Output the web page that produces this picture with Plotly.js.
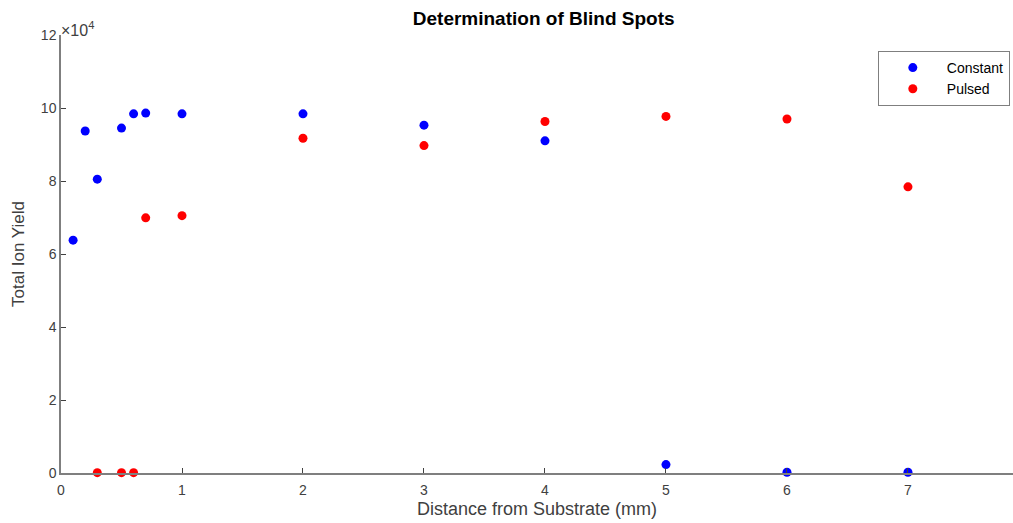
<!DOCTYPE html>
<html>
<head>
<meta charset="utf-8">
<script src="https://cdn.plot.ly/plotly-3.0.1.min.js"></script>
<style>html,body{margin:0;padding:0;background:#fff;}#chart{width:1013px;height:523px;}</style>
</head>
<body>
<div id="chart"></div>
<script>
// Distance from substrate (mm)
const constantX = [0.1, 0.2, 0.3, 0.5, 0.6, 0.7, 1, 2, 3, 4, 5, 6, 7];
const constantY = [63800, 93700, 80500, 94500, 98400, 98600, 98400, 98400, 95300, 91000, 2300, 200, 200];
const pulsedX = [0.3, 0.5, 0.6, 0.7, 1, 2, 3, 4, 5, 6, 7];
const pulsedY = [100, 100, 100, 69900, 70500, 91700, 89700, 96300, 97700, 97000, 78400];
const xTicks = [0, 1, 2, 3, 4, 5, 6, 7];
const xTickLabels = ['0', '1', '2', '3', '4', '5', '6', '7'];
const yTicks = [0, 20000, 40000, 60000, 80000, 100000, 120000];
const yTickLabels = ['0', '2', '4', '6', '8', '10', '12'];

const font = 'Liberation Sans, Arial, Helvetica, sans-serif';
const axisGray = '#7f7f7f';
const textGray = '#404040';

const traces = [
  {x: constantX, y: constantY, name: 'Constant', type: 'scatter', mode: 'markers',
   marker: {color: '#0000ff', size: 9}, cliponaxis: false},
  {x: pulsedX, y: pulsedY, name: 'Pulsed', type: 'scatter', mode: 'markers',
   marker: {color: '#ff0000', size: 9}, cliponaxis: false}
];

const layout = {
  width: 1013, height: 523,
  margin: {l: 61, r: 0, t: 35, b: 50},
  paper_bgcolor: '#ffffff', plot_bgcolor: '#ffffff',
  font: {family: font, size: 14, color: textGray},
  title: {text: '<b>Determination of Blind Spots</b>', font: {family: font, size: 19, color: '#000000'},
          x: 0.507, xref: 'paper', xanchor: 'center', y: 0.965, yref: 'container', yanchor: 'middle'},
  showlegend: true,
  legend: {x: 0.858, y: 0.9635, xanchor: 'left', yanchor: 'top', bordercolor: axisGray, borderwidth: 1,
           bgcolor: '#ffffff', font: {family: font, size: 14, color: '#000000'}, itemwidth: 58,
           tracegroupgap: 0},
  xaxis: {
    range: [0, 7.868], tickmode: 'array', tickvals: xTicks, ticktext: xTickLabels,
    showgrid: false, zeroline: false, showline: true, linecolor: axisGray, linewidth: 1.5,
    ticks: 'inside', ticklen: 5, tickcolor: '#404040', tickwidth: 1,
    tickfont: {family: font, size: 14, color: textGray}, ticklabelstandoff: 3,
    title: {text: 'Distance from Substrate (mm)', font: {family: font, size: 18, color: textGray}, standoff: 6}
  },
  yaxis: {
    range: [0, 120000], tickmode: 'array', tickvals: yTicks, ticktext: yTickLabels,
    showgrid: false, zeroline: false, showline: true, linecolor: axisGray, linewidth: 1.5,
    ticks: 'inside', ticklen: 5, tickcolor: '#404040', tickwidth: 1,
    tickfont: {family: font, size: 14, color: textGray},
    title: {text: 'Total Ion Yield', font: {family: font, size: 17, color: textGray}, standoff: 12}
  },
  annotations: [
    {text: '×10<sup>4</sup>', xref: 'paper', yref: 'paper', x: 0, y: 1, xanchor: 'left', yanchor: 'bottom',
     showarrow: false, font: {family: font, size: 16, color: textGray}, xshift: -2, yshift: -6}
  ]
};

Plotly.newPlot('chart', traces, layout, {displayModeBar: false, responsive: false});
</script>
</body>
</html>
